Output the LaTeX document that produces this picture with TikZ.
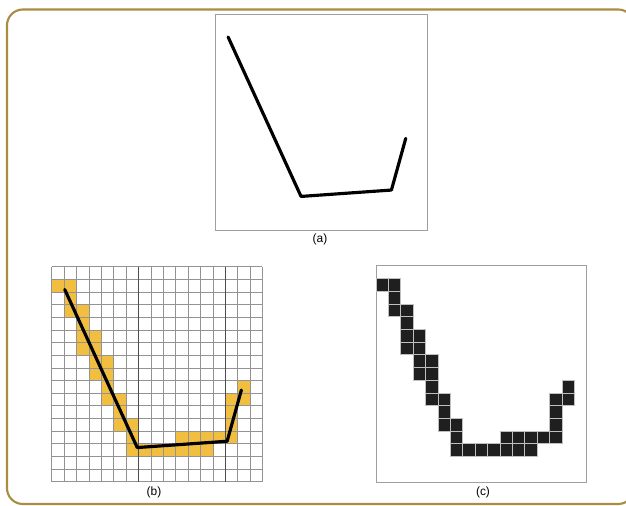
\documentclass[tikz,border=0pt]{standalone}
\usepackage{fontspec}
\setsansfont{Liberation Sans}
\usepackage{tikz}
\usetikzlibrary{positioning}
\definecolor{frameedge}{RGB}{170,140,68}
\definecolor{pixyel}{RGB}{242,190,64}
\tikzset{
  panel/.style={draw=gray!75,line width=0.5pt},
  gridln/.style={draw=gray!85,line width=0.4pt},
  gridmaj/.style={draw=black!70,line width=0.6pt},
  strk/.style={draw=black,line width=1.8pt,line join=round,line cap=round},
  pix/.style={draw=gray!50,fill=black!88,line width=0.4pt},
  figlabel/.style={font=\sffamily\fontsize{6.8}{7}\selectfont,inner sep=1pt},
}
% the stroke, in grid cells (y downwards)
\newcommand{\strokepath}{(1.05,1.8) -- (6.9,14.3) -- (14.15,13.8) -- (15.3,9.75)}
% cells hit by the stroke (column/row)
\newcommand{\pixlist}{0/1,1/1,1/2,1/3,2/3,2/4,2/5,3/5,2/6,3/6,3/7,4/7,3/8,4/8,4/9,15/9,4/10,5/10,14/10,15/10,5/11,14/11,5/12,6/12,14/12,6/13,10/13,11/13,12/13,13/13,14/13,6/14,7/14,8/14,9/14,10/14,11/14,12/14}

\begin{document}
\begin{tikzpicture}[x=0.02cm,y=-0.02cm]
  \useasboundingbox (0,0) rectangle (626,506);
  \fill[white] (0,0) rectangle (626,506);
  \draw[frameedge,line width=1.2pt,rounded corners=9] (7,9.5) rectangle (634,504);
  % (a) the line
  \begin{scope}[shift={(215,14)},x=0.2494cm,y=-0.2552cm]
    \draw[panel] (0,0) rectangle (17,17);
    \draw[strk] \strokepath;
  \end{scope}
  \node[figlabel] (la) at (320,239) {(a)};
  % (b) line over the grid
  \begin{scope}[shift={(51.7,266.7)},x=0.248cm,y=-0.253cm]
    \foreach \c/\r in \pixlist \fill[pixyel] (\c,\r) rectangle ++(1,1);
    \foreach \i in {0,...,17} {
      \draw[gridln] (\i,0) -- (\i,17);
      \draw[gridln] (0,\i) -- (17,\i);
    }
    \foreach \i in {7,14} \draw[gridmaj] (\i,0) -- (\i,17);
    \draw[strk] \strokepath;
  \end{scope}
  \node[figlabel] (lb) at (154,492) {(b)};
  % (c) the pixels only
  \begin{scope}[shift={(376,265.7)},x=0.248cm,y=-0.2545cm]
    \draw[panel] (0,0) rectangle (17,17);
    \foreach \c/\r in \pixlist \draw[pix] (\c,\r) rectangle ++(1,1);
  \end{scope}
  \node[figlabel] (lc) at (483,492) {(c)};
\end{tikzpicture}
\end{document}
